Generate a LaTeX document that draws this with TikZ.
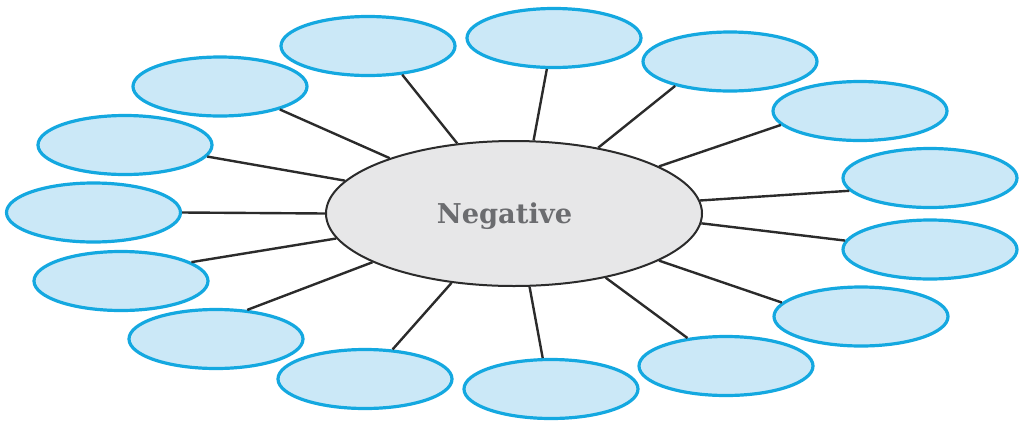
\documentclass[tikz,border=0pt]{standalone}
\usepackage{fontspec}
\newfontfamily\hubfont{DejaVu Serif}
\usetikzlibrary{shapes.geometric}
\definecolor{bubbleblue}{HTML}{14A8E0}
\definecolor{bubblefill}{HTML}{CBE8F7}
\definecolor{hubfill}{HTML}{E7E7E8}
\definecolor{hubline}{HTML}{2B2B2B}
\definecolor{textgray}{HTML}{6B6C6F}
\tikzset{
  bubble/.style={ellipse, draw=bubbleblue, fill=bubblefill, line width=3.2pt,
    minimum width=174pt, minimum height=59pt, inner sep=0pt},
  hub/.style={ellipse, draw=hubline, fill=hubfill, line width=2pt,
    minimum width=376pt, minimum height=145pt, inner sep=0pt},
  spoke/.style={draw=hubline, line width=2.4pt},
  hubtext/.style={text=textgray, font=\hubfont\bfseries\fontsize{27.3}{30}\selectfont, inner sep=0pt}
}
\begin{document}
\begin{tikzpicture}[x=1pt,y=-1pt]
\useasboundingbox (0,0) rectangle (1031,421);
\node[hub] (c) at (514,213.5) {};
\node[hubtext] (neg) at (504.5,216) {Negative};
\node[bubble] (b1) at (368,46) {};
\node[bubble] (b2) at (554,38) {};
\node[bubble] (b3) at (730,61.5) {};
\node[bubble] (b4) at (860,111) {};
\node[bubble] (b5) at (930,178) {};
\node[bubble] (b6) at (930,249.5) {};
\node[bubble] (b7) at (861,316.5) {};
\node[bubble] (b8) at (726,366) {};
\node[bubble] (b9) at (551,389) {};
\node[bubble] (b10) at (365,379) {};
\node[bubble] (b11) at (216,339) {};
\node[bubble] (b12) at (121,281) {};
\node[bubble] (b13) at (93.5,212.5) {};
\node[bubble] (b14) at (125,145) {};
\node[bubble] (b15) at (220,86.5) {};
\draw[spoke] (b1.-40.5) -- (c.129.6);
\draw[spoke] (b2.257.3) -- (c.75.4);
\draw[spoke] (b3.204.5) -- (c.38.2);
\draw[spoke] (b4.190.75) -- (c.18.1);
\draw[spoke] (b5.189) -- (c.4.3);
\draw[spoke] (b6.174.3) -- (c.-3.7);
\draw[spoke] (b7.170.6) -- (c.-18.9);
\draw[spoke] (b8.144.2) -- (c.-35.2);
\draw[spoke] (b9.105.4) -- (c.-78.5);
\draw[spoke] (b10.47) -- (c.228.5);
\draw[spoke] (b11.43.1) -- (c.199.65);
\draw[spoke] (b12.15.8) -- (c.188.3);
\draw[spoke] (b13.0) -- (c.180);
\draw[spoke] (b14.-8.2) -- (c.169.8);
\draw[spoke] (b15.-21.7) -- (c.156.6);
\end{tikzpicture}
\end{document}
